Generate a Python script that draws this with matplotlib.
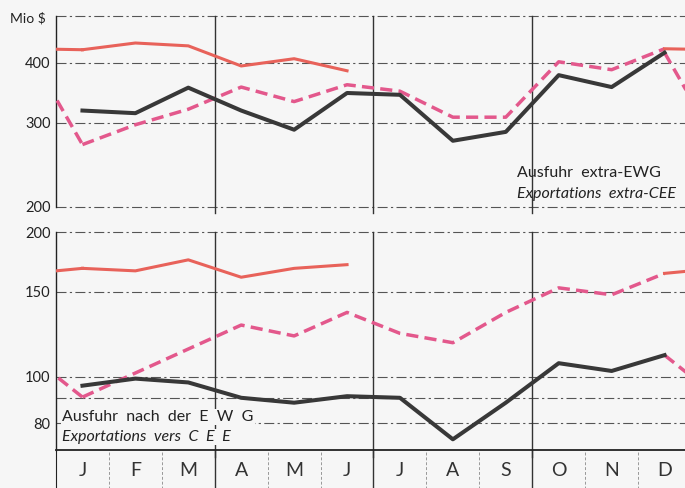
import numpy as np
import matplotlib.pyplot as plt

plt.rcParams['font.family'] = ['Lato', 'DejaVu Sans']

months = ["J", "F", "M", "A", "M", "J", "J", "A", "S", "O", "N", "D"]

# Ausfuhr extra-EWG, Mio $ (top panel)
extra_y1 = [318, 314, 355, 318, 290, 346, 343, 275, 287, 377, 356, 420]
extra_y2 = [270, 297, 320, 356, 332, 360, 349, 308, 308, 402, 387, 428]
extra_y3 = [426, 440, 434, 394, 408, 385]

# Ausfuhr nach der EWG, Mio $ (bottom panel)
intra_y1 = [95.7, 99.0, 97.2, 90.3, 88.2, 91.0, 90.3, 74.0, 88.2, 106.6, 102.7, 110.8]
intra_y2 = [90.6, 101.7, 114.1, 128, 121.5, 136, 123, 117.6, 136, 153, 148, 164]
intra_y3 = [168, 166, 175, 161, 168, 171]

top_ticks = [200, 300, 400]
top_grid = [200, 300, 400, 500]
bot_ticks = [80, 100, 150, 200]
bot_grid = [80, 90, 100, 150, 200]

BLACK = '#383838'
RED = '#e8625a'
PINK = '#e3588c'
GRID = '#555555'
BG = '#f6f6f6'

W, H = 685, 488
fig = plt.figure(figsize=(W / 100, H / 100), dpi=100, facecolor=BG)

x0 = 56 / W
xw = (691 - 56) / W


def px_axes(top, bottom):
    return fig.add_axes([x0, 1 - bottom / H, xw, (bottom - top) / H])


def draw_panel(ax, y1, y2, y3, ylim, ticks, grid):
    ax.set_facecolor('none')
    ax.set_yscale('log')
    ax.set_xlim(-0.5, 11.5)
    ax.set_ylim(*ylim)
    for g in grid:
        ax.axhline(g, color=GRID, lw=0.8, ls=(0, (9, 3, 2, 3)), zorder=1, clip_on=False)
    for q in [2.5, 5.5, 8.5]:
        ax.axvline(q, ymin=-0.03, ymax=1.0, color='#333333', lw=1.0, zorder=1, clip_on=False)
    x = np.arange(12)
    # links across the year boundary (Dec -> Jan), shown at both edges
    for a, b in [(-1, 0), (11, 12)]:
        ax.plot([a, b], [y1[11], y2[0]], color=PINK, lw=2.5,
                dashes=(3.5, 1.8), zorder=3)
    ax.plot(x, y1, color=BLACK, lw=2.9, zorder=4)
    ax.plot(x, y2, color=PINK, lw=2.5, dashes=(3.5, 1.8), zorder=3)
    for a, b in [(-1, 0), (11, 12)]:
        ax.plot([a, b], [y2[11], y3[0]], color=RED, lw=2.2, zorder=3)
    ax.plot(np.arange(len(y3)), y3, color=RED, lw=2.2, zorder=3)
    ax.set_yticks(ticks)
    ax.set_yticklabels([str(t) for t in ticks], fontsize=10.5, color='#222222')
    ax.yaxis.set_minor_locator(plt.NullLocator())
    ax.tick_params(axis='y', length=0, pad=4)
    ax.set_xticks([])
    for s in ['top', 'right', 'bottom']:
        ax.spines[s].set_visible(False)
    ax.spines['left'].set_color('#222222')
    ax.spines['left'].set_linewidth(1.0)


ax_top = px_axes(16, 207)
draw_panel(ax_top, extra_y1, extra_y2, extra_y3, (200, 501), top_ticks, top_grid)

ax_bot = px_axes(232, 450)
draw_panel(ax_bot, intra_y1, intra_y2, intra_y3, (70.3, 200), bot_ticks, bot_grid)

# month strip
ax_m = px_axes(450, 492)
ax_m.set_facecolor('none')
ax_m.set_xlim(-0.5, 11.5)
ax_m.set_ylim(0, 1)
for i in range(1, 12):
    if i % 3 == 0:
        ax_m.axvline(i - 0.5, color='#333333', lw=1.0)
    else:
        ax_m.axvline(i - 0.5, color='#999999', lw=0.7, ls=(0, (3, 2)))
for i, m in enumerate(months):
    ax_m.text(i, 0.52, m, ha='center', va='center', fontsize=14, color='#333333')
ax_m.set_xticks([])
ax_m.set_yticks([])
for s in ['right', 'bottom']:
    ax_m.spines[s].set_visible(False)
ax_m.spines['top'].set_linewidth(1.3)
ax_m.spines['top'].set_color('#222222')
ax_m.spines['left'].set_color('#222222')

# texts
box = dict(facecolor=BG, edgecolor='none', pad=1.0)
fig.text(10 / W, 1 - 18 / H, "Mio $", fontsize=10, va='center', ha='left', color='#222222')
fig.text(517 / W, 1 - 173 / H, "Ausfuhr  extra-EWG", fontsize=11.5,
         va='center', ha='left', color='#222222')
fig.text(517 / W, 1 - 194 / H, "Exportations  extra-CEE", fontsize=11.5,
         style='italic', va='center', ha='left', color='#222222')
fig.text(62 / W, 1 - 417 / H, "Ausfuhr  nach  der  E  W  G", fontsize=11.5,
         va='center', ha='left', color='#222222', bbox=box, zorder=5)
fig.text(62 / W, 1 - 437 / H, "Exportations  vers  C  E  E", fontsize=11.5,
         style='italic', va='center', ha='left', color='#222222', bbox=box, zorder=5)

fig.savefig('out.png', dpi=100, facecolor=BG)
